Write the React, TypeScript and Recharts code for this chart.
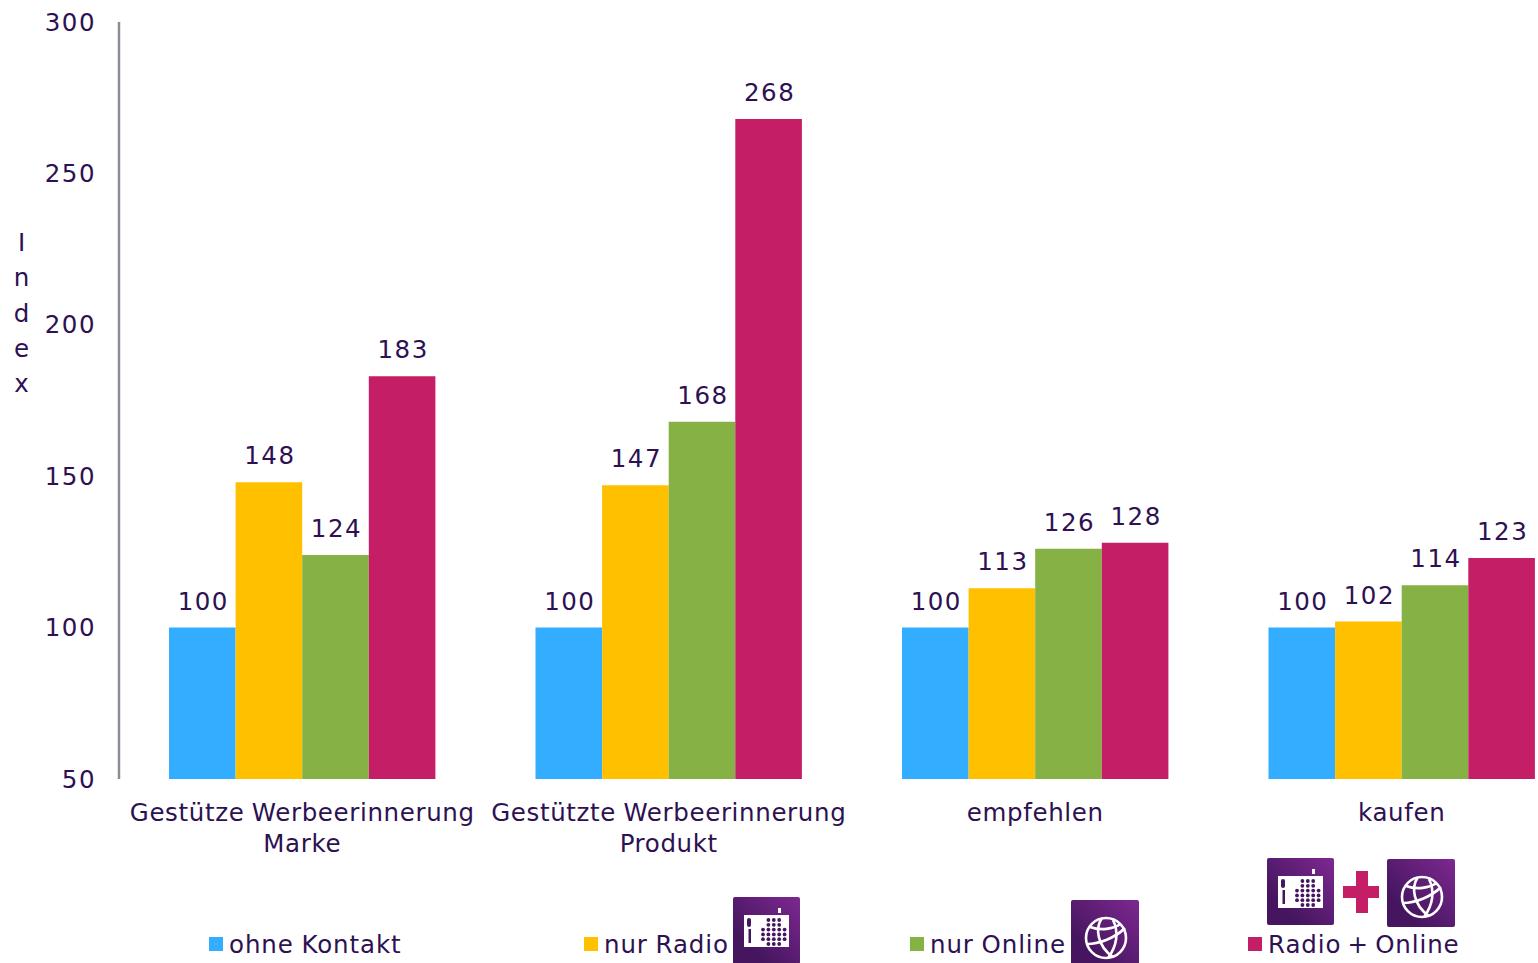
import { Bar, BarChart, LabelList, Legend, XAxis, YAxis } from 'recharts'

const categories = [
  ['Gestütze Werbeerinnerung', 'Marke'],
  ['Gestützte Werbeerinnerung', 'Produkt'],
  ['empfehlen'],
  ['kaufen'],
]
const ohneKontakt = [100, 100, 100, 100]
const nurRadio = [148, 147, 113, 102]
const nurOnline = [124, 168, 126, 114]
const radioOnline = [183, 268, 128, 123]
const yTicks = [50, 100, 150, 200, 250, 300]
const axisTitle = ['I', 'n', 'd', 'e', 'x']

const ink = '#2d1152'
const font = '"DejaVu Sans", sans-serif'
const fontSize = 24.5

const textStyle = { fontFamily: font, fontSize, letterSpacing: 0.8, fill: ink }
const digitStyle = { ...textStyle, letterSpacing: 1.5 }
const categoryStyle = { ...textStyle, letterSpacing: 0.64, wordSpacing: -1 }
const legendStyle = { ...textStyle, letterSpacing: 0.9, wordSpacing: -1 }

const rows = categories.map((label, i) => ({
  key: label.join(' '),
  label,
  ohne: ohneKontakt[i],
  radio: nurRadio[i],
  online: nurOnline[i],
  both: radioOnline[i],
}))

const series = [
  { key: 'ohne', name: 'ohne Kontakt', color: '#33adff' },
  { key: 'radio', name: 'nur Radio', color: '#ffc000' },
  { key: 'online', name: 'nur Online', color: '#86b145' },
  { key: 'both', name: 'Radio + Online', color: '#c31e66' },
]

const legendX = [209, 584, 910, 1248]

function CategoryTick({ x, y, index }: any) {
  const lines = categories[index] ?? []
  return (
    <text x={x} textAnchor="middle" style={categoryStyle}>
      {lines.map((line, i) => (
        <tspan key={line} x={x} y={y + 34 + i * 31}>
          {line}
        </tspan>
      ))}
    </text>
  )
}

function IndexTitle() {
  return (
    <g>
      {axisTitle.map((letter, i) => (
        <text key={letter} x={22} y={251 + i * 35.3} textAnchor="middle" style={textStyle}>
          {letter}
        </text>
      ))}
    </g>
  )
}

const dotRows = [
  [1, 3],
  [1, 3],
  [0, 5],
  [0, 5],
  [0, 5],
  [1, 3],
]

function RadioIcon({ x, y, id }: { x: number; y: number; id: string }) {
  return (
    <g transform={`translate(${x} ${y})`}>
      <defs>
        <linearGradient id={id} x1="0" y1="1" x2="1" y2="0">
          <stop offset="0.25" stopColor="#45165f" />
          <stop offset="1" stopColor="#7e2891" />
        </linearGradient>
      </defs>
      <rect width={67} height={67} rx={2} fill={`url(#${id})`} />
      <rect x={11} y={18} width={45} height={32} fill="#fff" />
      <rect x={45} y={11} width={3} height={5} fill="#fff" />
      <rect x={14} y={21} width={4} height={9} rx={2} fill="#45165f" />
      <rect x={15.5} y={32} width={2.5} height={14} fill="#45165f" />
      {dotRows.flatMap(([start, count], r) =>
        Array.from({ length: count }, (_, c) => (
          <circle key={`${r}-${c}`} cx={30 + (start + c) * 5.4} cy={23 + r * 4.8} r={1.9} fill="#45165f" />
        )),
      )}
    </g>
  )
}

function GlobeIcon({ x, y, id }: { x: number; y: number; id: string }) {
  return (
    <g transform={`translate(${x} ${y})`}>
      <defs>
        <linearGradient id={id} x1="0" y1="1" x2="1" y2="0">
          <stop offset="0.25" stopColor="#45165f" />
          <stop offset="1" stopColor="#7e2891" />
        </linearGradient>
      </defs>
      <rect width={68} height={68} rx={2} fill={`url(#${id})`} />
      <g fill="none" stroke="#fff" strokeWidth={2.6}>
        <circle cx={35} cy={38} r={20} />
        <path d="M16 44 C28 44 44 38 54 28" />
        <path d="M19 27 C30 31 42 29 50 24" />
        <path d="M31 18 C24 28 26 46 42 57" />
        <path d="M42 20 C48 32 46 46 37 58" />
      </g>
    </g>
  )
}

function LegendArt() {
  return (
    <svg width={1538} height={963} style={{ display: 'block', position: 'absolute', left: 0, top: 0 }}>
      {series.map((s, i) => (
        <g key={s.key}>
          <rect x={legendX[i]} y={937} width={14} height={14} fill={s.color} />
          <text x={legendX[i] + 20} y={953} style={s.key === 'both' ? { ...legendStyle, wordSpacing: -2.5 } : legendStyle}>
            {s.name}
          </text>
        </g>
      ))}
      <RadioIcon x={733} y={897} id="radioA" />
      <GlobeIcon x={1071} y={900} id="globeA" />
      <RadioIcon x={1267} y={858} id="radioB" />
      <GlobeIcon x={1387} y={859} id="globeB" />
      <path d="M1356 871h12v15h11v12h-11v15h-12v-15h-13v-12h13z" fill="#c31e66" />
    </svg>
  )
}

export default function App() {
  return (
    <div style={{ position: 'fixed', left: 0, top: 0, width: 1538, height: 963, overflow: 'hidden', background: '#fff' }}>
      <BarChart
        width={1585}
        height={963}
        data={rows}
        margin={{ top: 22, right: 0, bottom: 0, left: 0 }}
        barGap={0}
        barSize={66.6}
      >
        <XAxis
          dataKey="key"
          axisLine={false}
          tickLine={false}
          interval={0}
          height={184}
          tick={<CategoryTick />}
        />
        <YAxis
          width={119}
          domain={[50, 300]}
          ticks={yTicks}
          interval={0}
          allowDataOverflow
          axisLine={{ stroke: '#8e8c96', strokeWidth: 2.5 }}
          tickLine={false}
          tickSize={0}
          tickMargin={23}
          tick={digitStyle}
          label={{ content: <IndexTitle /> }}
        />
        <Legend
          content={<LegendArt />}
          wrapperStyle={{ position: 'absolute', left: 0, top: 0, bottom: 'auto', width: 0, height: 0, overflow: 'visible', pointerEvents: 'none' }}
        />
        {series.map((s) => (
          <Bar key={s.key} dataKey={s.key} name={s.name} fill={s.color} isAnimationActive={false}>
            <LabelList dataKey={s.key} position="top" offset={18} dx={1} style={digitStyle} />
          </Bar>
        ))}
      </BarChart>
    </div>
  )
}
